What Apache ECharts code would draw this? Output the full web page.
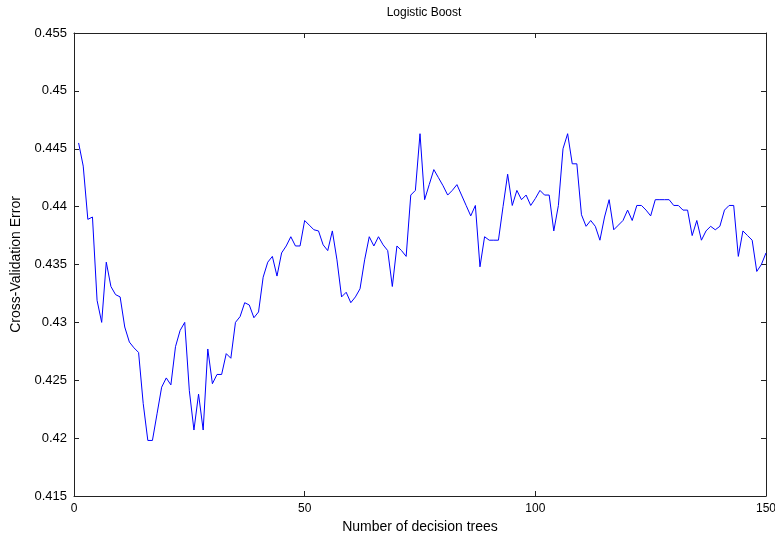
<!DOCTYPE html>
<html>
<head>
<meta charset="utf-8">
<script src="https://cdn.jsdelivr.net/npm/echarts@6/dist/echarts.min.js"></script>
<style>
html,body{margin:0;padding:0;background:#fff;}
#chart{width:775px;height:535px;}
</style>
</head>
<body>
<div id="chart"></div>
<script>
var titleText = "Logistic Boost";
var xAxisName = "Number of decision trees";
var yAxisName = "Cross-Validation Error";
var xTicks = [0, 50, 100, 150];
var yTicks = [0.415, 0.42, 0.425, 0.43, 0.435, 0.44, 0.445, 0.45, 0.455];
var numTrees = [];
for (var k = 1; k <= 150; k++) numTrees.push(k);
var cvError = [
0.4455,0.4435,0.4389,0.4391,0.4319,0.4300,0.4352,0.4331,0.4324,0.4322,
0.4296,0.4283,0.4278,0.4274,0.4230,0.4198,0.4198,0.4221,0.4244,0.4252,
0.4246,0.4279,0.4293,0.4300,0.4241,0.4207,0.4238,0.4207,0.4277,0.4247,
0.4255,0.4255,0.4273,0.4269,0.4300,0.4305,0.4317,0.4315,0.4304,0.4309,
0.4339,0.4352,0.4357,0.4340,0.4360,0.4366,0.4374,0.4366,0.4366,0.4388,
0.4384,0.4380,0.4379,0.4367,0.4362,0.4379,0.4354,0.4322,0.4326,0.4317,
0.4322,0.4329,0.4354,0.4374,0.4366,0.4374,0.4367,0.4362,0.4331,0.4366,
0.4362,0.4357,0.4410,0.4414,0.4463,0.4406,0.4419,0.4432,0.4425,0.4418,
0.4410,0.4414,0.4419,0.4410,0.4401,0.4392,0.4401,0.4348,0.4374,0.4371,
0.4371,0.4371,0.4400,0.4428,0.4401,0.4414,0.4406,0.4410,0.4401,0.4407,
0.4414,0.4410,0.4410,0.4379,0.4401,0.4450,0.4463,0.4437,0.4437,0.4393,
0.4383,0.4388,0.4383,0.4371,0.4391,0.4406,0.4380,0.4384,0.4388,0.4397,
0.4388,0.4401,0.4401,0.4397,0.4392,0.4406,0.4406,0.4406,0.4406,0.4401,
0.4401,0.4397,0.4397,0.4375,0.4388,0.4371,0.4379,0.4383,0.4380,0.4383,
0.4397,0.4401,0.4401,0.4357,0.4379,0.4375,0.4371,0.4344,0.4350,0.4360
];

var seriesData = numTrees.map(function (x, i) { return [x, cvError[i]]; });

var font = "Liberation Sans, Arial, sans-serif";
var axisColor = "#000";
function yFmt(v) { return parseFloat(v.toFixed(3)).toString(); }

var common = {
  axisLine: { show: true, onZero: false, lineStyle: { color: "#222", width: 1 } },
  axisTick: { show: true, inside: true, length: 5, lineStyle: { color: "#222" } },
  splitLine: { show: false }
};

var chart = echarts.init(document.getElementById('chart'), null, { renderer: 'canvas' });
chart.setOption({
  animation: false,
  backgroundColor: "#fff",
  title: {
    text: titleText, left: 419, top: 2, textAlign: 'center',
    textStyle: { fontFamily: font, fontSize: 12, fontWeight: 'normal', color: axisColor }
  },
  grid: { left: 74, right: 9, top: 33, bottom: 39, containLabel: false, outerBoundsMode: 'none' },
  xAxis: [
    Object.assign({
      type: 'value', position: 'bottom', min: xTicks[0], max: xTicks[xTicks.length - 1], interval: 50,
      name: xAxisName, nameLocation: 'middle', nameGap: 23,
      nameTextStyle: { fontFamily: font, fontSize: 14, color: axisColor },
      axisLabel: { fontFamily: font, fontSize: 12, color: axisColor, margin: 7 }
    }, common),
    Object.assign({
      type: 'value', position: 'top', min: xTicks[0], max: xTicks[xTicks.length - 1], interval: 50,
      axisLabel: { show: false }
    }, common)
  ],
  yAxis: [
    Object.assign({
      type: 'value', position: 'left', min: yTicks[0], max: yTicks[yTicks.length - 1], interval: 0.005,
      name: yAxisName, nameLocation: 'middle', nameGap: 50, nameRotate: 90,
      nameTextStyle: { fontFamily: font, fontSize: 14, color: axisColor },
      axisLabel: { fontFamily: font, fontSize: 13, color: axisColor, margin: 7, formatter: yFmt }
    }, common),
    Object.assign({
      type: 'value', position: 'right', min: yTicks[0], max: yTicks[yTicks.length - 1], interval: 0.005,
      axisLabel: { show: false }
    }, common)
  ],
  series: [{
    type: 'line', xAxisIndex: 0, yAxisIndex: 0,
    data: seriesData, showSymbol: false, symbol: 'none',
    lineStyle: { color: '#0000ff', width: 1 },
    itemStyle: { color: '#0000ff' }
  }]
});
</script>
</body>
</html>
